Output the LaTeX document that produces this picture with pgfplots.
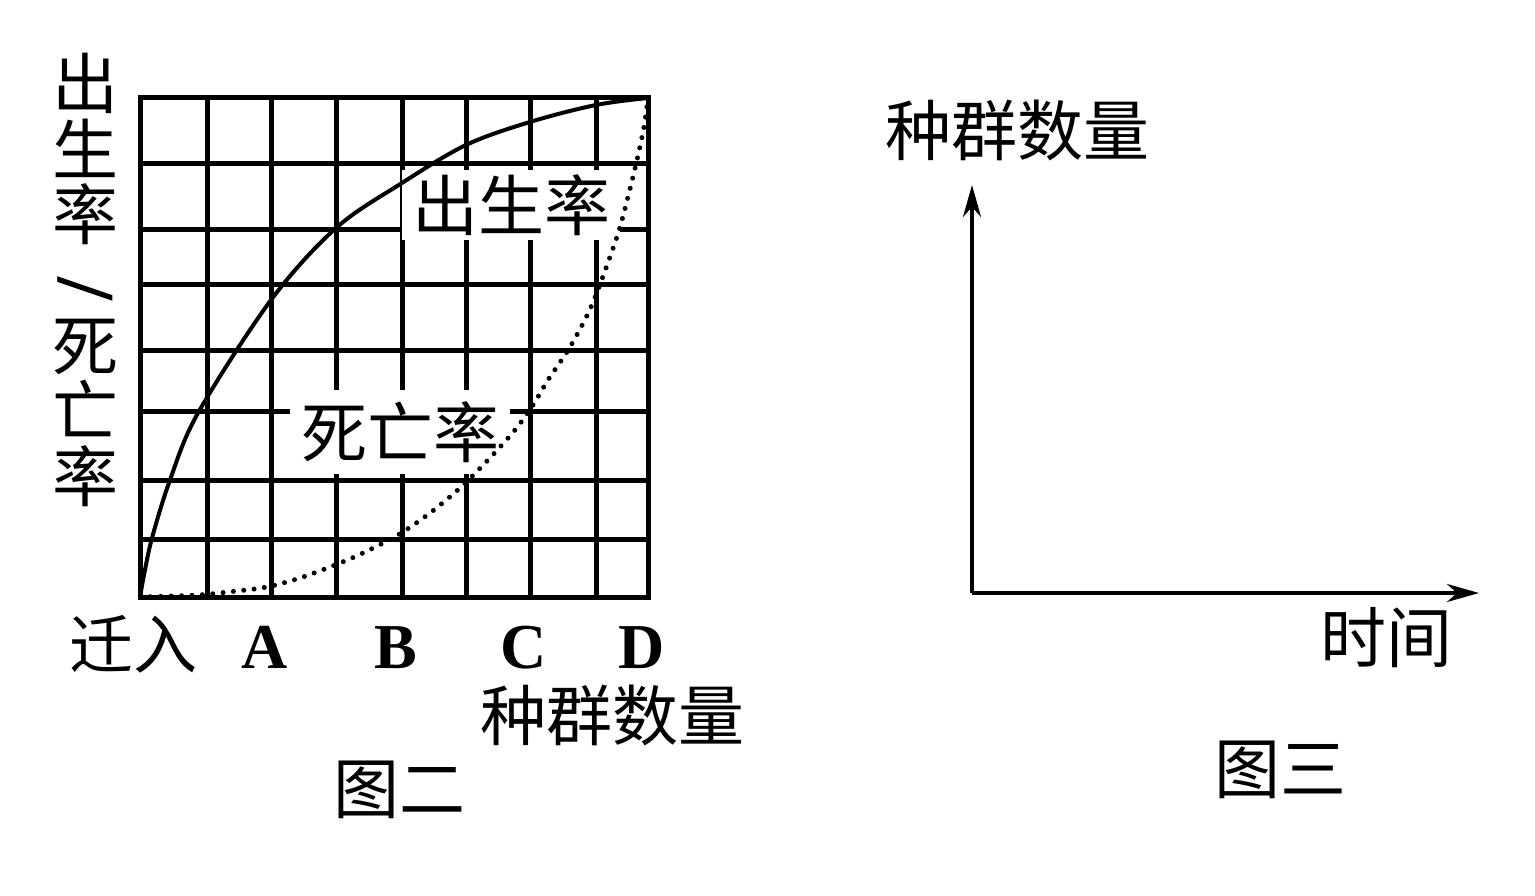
\documentclass[border=0pt]{standalone}
\usepackage{fontspec}
\setmainfont{Liberation Serif}
\newfontfamily\cjk{Noto Sans CJK SC}
\usepackage{graphicx}
\usepackage{pgfplots}
\pgfplotsset{compat=1.18}
\usetikzlibrary{arrows.meta}
\newcommand{\bigfs}{\fontsize{33}{33}\selectfont}
\begin{document}
\begin{tikzpicture}
\path[use as bounding box] (0,0) rectangle (767.5pt,447.5pt);
% ---------- 图二 ----------
\begin{axis}[
  at={(70pt,149pt)}, anchor=south west, scale only axis,
  width=254pt, height=249.5pt,
  xmin=0, xmax=508, ymin=0, ymax=499,
  xtick={0,67,131,196,262,326,390,456,508},
  xticklabels={{\cjk\mdseries 迁入},,A,,B,,C,,D},
  ytick={0,58,116,185,246,312,367,433,499},
  yticklabels={},
  major tick length=0pt,
  grid=major,
  major grid style={black, line width=2.5pt},
  axis line style={black, line width=2.5pt},
  xticklabel style={font=\fontsize{32}{32}\selectfont\bfseries, anchor=base, yshift=-35.5pt, xshift=-3pt},
  xlabel={\cjk 种群数量},
  xlabel style={font=\bigfs, at={(rel axis cs:1,0)}, anchor=center, xshift=-18pt, yshift=-59pt},
  ylabel={\cjk 出\\\cjk 生\\\cjk 率\\\raisebox{14pt}{\scalebox{1.25}{\rotatebox{-90}{\bfseries /}}}\\\cjk 死\\\cjk 亡\\\cjk 率},
  ylabel style={rotate=-90, font=\fontsize{33}{32.7}\selectfont, align=center,
                at={(rel axis cs:0,0.5)}, anchor=center, xshift=-27.5pt, yshift=33.75pt},
]
\node[fill=white, inner sep=0pt, minimum width=109pt, minimum height=35pt, font=\bigfs\cjk] at (axis cs:371,392) {出生率};
\node[fill=white, inner sep=0pt, minimum width=110pt, minimum height=42pt, font=\bigfs\cjk] at (axis cs:260,165) {死亡率};
% birth rate
\addplot[black, line width=2pt, smooth, tension=0.55] coordinates {
 (0,0) (4,22) (12,59) (30,117) (58,184) (131,297) (196,369) (262,414) (326,452) (390,475) (456,492) (508,499)
};
% death rate
\addplot[black, line width=2.5pt, line cap=round, dash pattern=on 0pt off 5.2pt, smooth, tension=0.5] coordinates {
 (0,0) (58,2) (97,6) (127,10) (160,19) (195,32) (223,44) (258,62) (290,84) (320,109) (348,137) (375,167) (393,192) (408,217) (430,250) (451,290) (470,340) (480,370) (489,404) (497,437) (504,470) (508,499)
};
\end{axis}
\node[font=\bigfs\cjk] at (199.5pt,52.5pt) {图二};
% ---------- 图三 ----------
\begin{axis}[
  at={(486pt,151pt)}, anchor=south west, scale only axis,
  width=253.5pt, height=204pt,
  xmin=0, xmax=1, ymin=0, ymax=1,
  axis lines=left,
  axis line style={black, line width=2pt, -{Stealth[length=16pt, width=9pt, inset=5pt]}},
  xtick=\empty, ytick=\empty,
  xlabel={\cjk 时间},
  xlabel style={font=\bigfs, at={(rel axis cs:1,0)}, anchor=center, xshift=-46.5pt, yshift=-22.5pt},
  ylabel={\cjk 种群数量},
  ylabel style={rotate=-90, font=\bigfs, at={(rel axis cs:0,1)}, anchor=center, xshift=22.5pt, yshift=27.5pt},
]
\node[font=\fontsize{32}{32}\selectfont\bfseries] at (rel axis cs:0,0) [xshift=-21pt, yshift=-2.5pt] {O};
\end{axis}
\node[font=\bigfs\cjk] at (640pt,62.5pt) {图三};
\end{tikzpicture}
\end{document}
